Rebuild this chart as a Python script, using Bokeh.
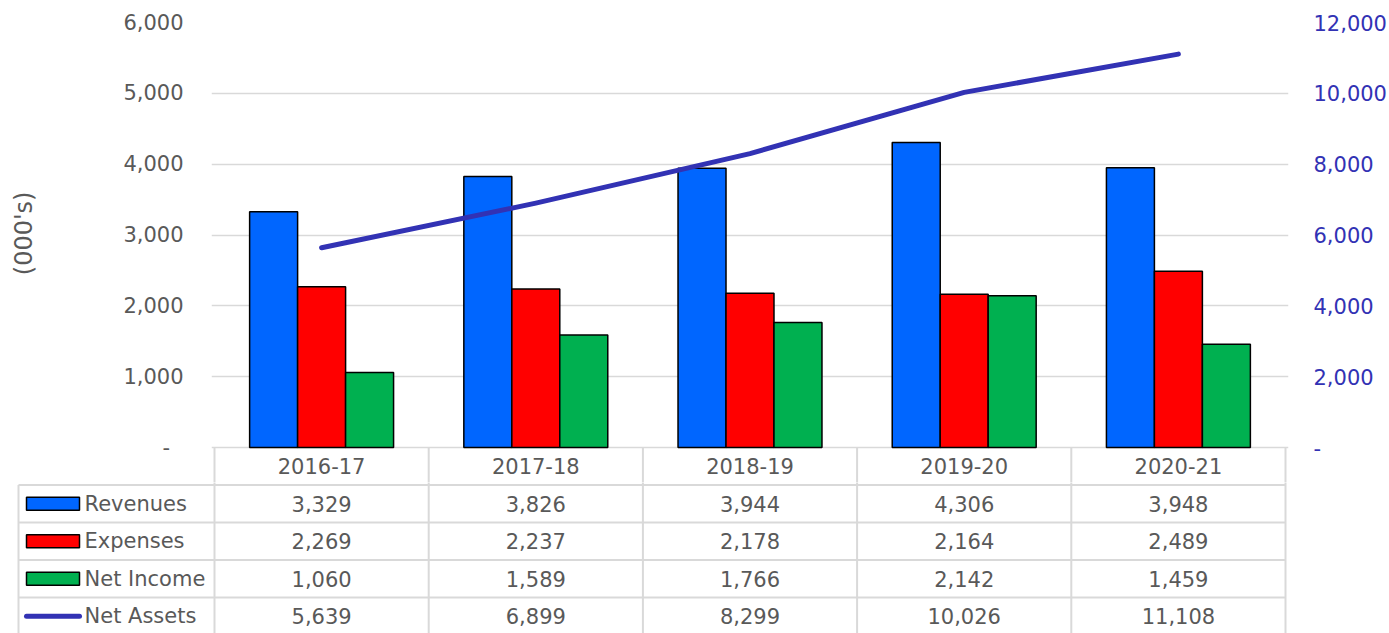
from bokeh.plotting import figure
from bokeh.models import Range1d, LinearAxis, FixedTicker, NumeralTickFormatter, FactorRange, ColumnDataSource
from bokeh.transform import dodge
from bokeh.core.properties import value
from bokeh.embed import file_html
from bokeh.resources import INLINE

# ---------------- data ----------------
years = ["2016-17", "2017-18", "2018-19", "2019-20", "2020-21"]
revenues = [3329, 3826, 3944, 4306, 3948]
expenses = [2269, 2237, 2178, 2164, 2489]
net_income = [1060, 1589, 1766, 2142, 1459]
net_assets = [5639, 6899, 8299, 10026, 11108]
series_names = ["Revenues", "Expenses", "Net Income", "Net Assets"]
left_ticks = [0, 1000, 2000, 3000, 4000, 5000, 6000]
right_ticks = [0, 2000, 4000, 6000, 8000, 10000, 12000]

# ---------------- style / layout constants (pixels) ----------------
FONT = "DejaVu Sans"
GRAY = "#595959"
GRID = "#D9D9D9"
LINE_COLOR = "#3232B4"
bar_colors = ["#0066FF", "#FF0000", "#00B050"]
W = 1389
H = 633
Y_TOP = 22        # pixel of max tick
Y_ZERO = 447      # pixel of zero
TOP_H = 482       # height of chart figure (includes header row)
ROW_H = 37.5
CAT_PX = 214.2
PAD = 3 / CAT_PX

bar_series = [revenues, expenses, net_income]
all_series = [revenues, expenses, net_income, net_assets]

# ---------------- top chart ----------------
ppu_left = (Y_ZERO - Y_TOP) / left_ticks[-1]
ppu_right = (Y_ZERO - Y_TOP) / right_ticks[-1]
left_start = -(TOP_H - Y_ZERO) / ppu_left
right_start = -(TOP_H - Y_ZERO) / ppu_right

top = figure(width=W, height=TOP_H, output_backend="svg", toolbar_location=None,
             x_range=FactorRange(*years, range_padding=PAD, range_padding_units="absolute"),
             y_range=Range1d(left_start, left_ticks[-1]),
             x_axis_location=None, y_axis_location="left",
             min_border_left=211, min_border_right=101, min_border_top=Y_TOP, min_border_bottom=0)
top.outline_line_color = None
top.xgrid.visible = False
top.ygrid.ticker = FixedTicker(ticks=left_ticks)
top.ygrid.grid_line_color = GRID
top.ygrid.grid_line_width = 1.5

ya = top.yaxis[0]
ya.ticker = FixedTicker(ticks=left_ticks)
ya.formatter = NumeralTickFormatter(format="0,0")
ya.major_label_overrides = {0: "-\u00a0\u00a0"}
ya.axis_line_color = None
ya.major_tick_line_color = None
ya.minor_tick_line_color = None
ya.major_tick_out = 0
ya.major_tick_in = 0
ya.major_label_standoff = 28
ya.major_label_text_font = FONT
ya.major_label_text_font_size = "21px"
ya.major_label_text_color = GRAY
# leading non-breaking spaces lift the rotated label to the centre of the plot area
ya.axis_label = "\u00a0" * 5 + "(000's)"
ya.axis_label_text_font = FONT
ya.axis_label_text_font_size = "24px"
ya.axis_label_text_font_style = "normal"
ya.axis_label_text_color = GRAY
ya.axis_label_standoff = 82

top.extra_y_ranges = {"right": Range1d(right_start, right_ticks[-1])}
ra = LinearAxis(y_range_name="right", ticker=FixedTicker(ticks=right_ticks),
                formatter=NumeralTickFormatter(format="0,0"))
ra.major_label_overrides = {0: "-"}
ra.axis_line_color = None
ra.major_tick_line_color = None
ra.minor_tick_line_color = None
ra.major_tick_out = 0
ra.major_tick_in = 0
ra.major_label_standoff = 25
ra.major_label_text_font = FONT
ra.major_label_text_font_size = "21px"
ra.major_label_text_color = LINE_COLOR
top.add_layout(ra, "right")

src = ColumnDataSource(dict(year=years, rev=revenues, exp=expenses, inc=net_income, assets=net_assets))
bw = 0.224
for k, (col, color) in enumerate(zip(["rev", "exp", "inc"], bar_colors)):
    top.vbar(x=dodge("year", (k - 1) * bw, range=top.x_range), top=col, bottom=0, width=bw,
             source=src, fill_color=color, line_color="black", line_width=1.5)

top.line(x="year", y="assets", source=src, y_range_name="right",
         line_color=LINE_COLOR, line_width=5, line_cap="round", line_join="round")

# header row of the data table (category labels) inside the chart figure
n = len(years)
header_mid = -(ROW_H / 2) / ppu_left
top.segment(x0=list(range(n + 1)), x1=list(range(n + 1)), y0=[0] * (n + 1), y1=[left_start] * (n + 1),
            line_color=GRID, line_width=2)
top.text(x=years, y=[header_mid] * n, text=years,
         text_font=value(FONT), text_font_size="21px", text_color=GRAY,
         text_align="center", text_baseline="middle")

# ---------------- data table body ----------------
bot_h = H - TOP_H
y_top = (TOP_H - Y_ZERO) / ROW_H
y_bot = (H - Y_ZERO) / ROW_H
label_col = 196 / CAT_PX
x_left = -(214 - 16) / CAT_PX

bot = figure(width=W, height=bot_h, output_backend="svg", toolbar_location=None,
             x_range=Range1d(x_left, n + PAD), y_range=Range1d(y_bot, y_top),
             x_axis_location=None, y_axis_location=None,
             min_border_left=16, min_border_right=101, min_border_top=0, min_border_bottom=0)
bot.outline_line_color = None
bot.grid.visible = False

nrows = len(series_names)
hk = list(range(1, nrows + 2))
bot.segment(x0=[-label_col] * len(hk), x1=[n] * len(hk), y0=hk, y1=hk, line_color=GRID, line_width=2)

vx = list(range(n + 1)) + [-label_col]
vy0 = [0] * (n + 1) + [1]
bot.segment(x0=vx, x1=vx, y0=vy0, y1=[nrows + 1] * len(vx), line_color=GRID, line_width=2)

tx, ty, tt = [], [], []
for i, s in enumerate(all_series):
    for j, v in enumerate(s):
        tx.append(j + 0.5); ty.append(i + 1.5); tt.append(f"{v:,}")
bot.text(x=tx, y=ty, text=tt, text_font=value(FONT), text_font_size="21px",
         text_color=GRAY, text_align="center", text_baseline="middle")

key_x = -(214 - 52.5) / CAT_PX
key_half = 26.5 / CAT_PX
bot.rect(x=[key_x] * 3, y=[i + 1.5 for i in range(3)], width=53, height=13,
         width_units="screen", height_units="screen",
         fill_color=bar_colors, line_color="black", line_width=1.5)
bot.segment(x0=[key_x - key_half], x1=[key_x + key_half], y0=[nrows + 0.5], y1=[nrows + 0.5],
            line_color=LINE_COLOR, line_width=5, line_cap="round")
bot.text(x=[-(214 - 84) / CAT_PX] * nrows, y=[i + 1.5 for i in range(nrows)], text=series_names,
         text_font=value(FONT), text_font_size="21px", text_color=GRAY,
         text_align="left", text_baseline="middle")

open("out.html", "w").write(file_html([top, bot], INLINE))
